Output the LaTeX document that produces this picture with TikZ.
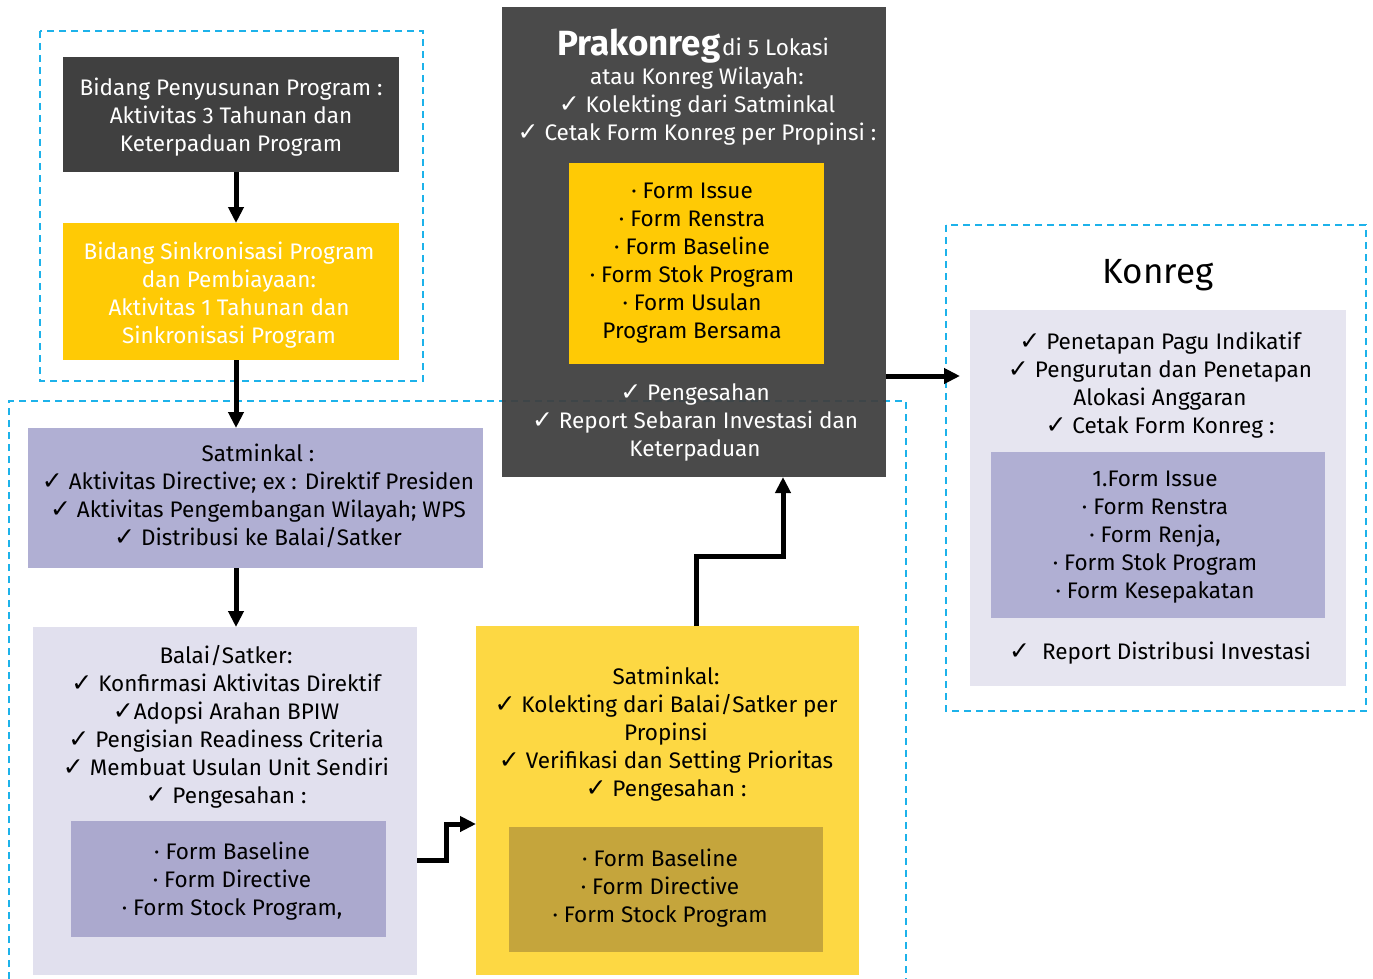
\documentclass[tikz,border=0pt]{standalone}
\usepackage{fontspec}
\setmainfont{Fira Sans}
\newfontfamily\djv{DejaVu Sans}
\usetikzlibrary{arrows.meta}
\newcommand\ck{{\djv\fontsize{25}{28}\selectfont ✓}}
\newcommand\fs{\fontsize{22.5}{28}\selectfont}
\definecolor{darkc}{HTML}{404040}
\definecolor{yelc}{HTML}{FFCA05}
\definecolor{lavc}{HTML}{B0AFD3}
\definecolor{lightlav}{HTML}{E1E0EE}
\definecolor{lightlavb}{HTML}{E6E5F0}
\definecolor{lavin}{HTML}{ABA9CE}
\definecolor{yelb}{HTML}{FDD843}
\definecolor{olivec}{HTML}{C5A53C}
\definecolor{cyanc}{HTML}{1DB2EA}
\tikzset{
  box/.style={inner sep=0, outer sep=0, draw=none},
  txt/.style={inner sep=0, outer sep=0, align=center, font=\fs, yshift=-4pt,
    execute at begin node=\strut, execute at end node=\strut},
  conn/.style={line width=5pt, -{Triangle[length=16pt,width=15pt]}},
  cyanbox/.style={draw=cyanc, line width=1.8pt, dash pattern=on 7pt off 5pt},
}
\begin{document}
\begin{tikzpicture}[x=1pt,y=-1pt]
\useasboundingbox (0,0) rectangle (1373,979);
% dashed groups
\draw[cyanbox] (40,31) rectangle (423,381);
\draw[cyanbox] (9,979) -- (9,401) -- (906,401) -- (906,979);
\draw[cyanbox] (946,225) rectangle (1366,711);

% left column
\node[box, fill=darkc, minimum width=336, minimum height=115] (d1) at (231,114.5) {};
\node[txt, text=white] (d1t) at (231,115) {Bidang Penyusunan Program :\\Aktivitas 3 Tahunan dan\\Keterpaduan Program};
\node[box, fill=yelc, minimum width=336, minimum height=137] (y1) at (231,291.5) {};
\node[txt, text=white] (y1t) at (229,292.5) {Bidang Sinkronisasi Program\\dan Pembiayaan:\\Aktivitas 1 Tahunan dan\\Sinkronisasi Program};

\node[box, fill=lavc, minimum width=455, minimum height=140] (s1) at (255.5,498) {};
\node[txt] (s1t) at (258,494.5) {Satminkal :\\\ck\ Aktivitas Directive; ex : Direktif Presiden\\\ck\ Aktivitas Pengembangan Wilayah; WPS\\\ck\ Distribusi ke Balai/Satker};

\node[box, fill=lightlav, minimum width=384, minimum height=348] (b1) at (225,801) {};
\node[txt] (b1t) at (226,724.5) {Balai/Satker:\\\ck\ Konfirmasi Aktivitas Direktif\\\ck Adopsi Arahan BPIW\\\ck\ Pengisian Readiness Criteria\\\ck\ Membuat Usulan Unit Sendiri\\\ck\ Pengesahan :};
\node[box, fill=lavin, minimum width=315, minimum height=116] (b1in) at (228.5,879) {};
\node[txt] (b1int) at (232,879) {· Form Baseline\\· Form Directive\\· Form Stock Program,};

% middle bottom
\node[box, fill=yelb, minimum width=383, minimum height=349] (y2) at (667.5,800.5) {};
\node[txt] (y2t) at (666,732) {Satminkal:\\\ck\ Kolekting dari Balai/Satker per\\Propinsi\\\ck\ Verifikasi dan Setting Prioritas\\\ck\ Pengesahan :};
\node[box, fill=olivec, minimum width=314, minimum height=125] (y2in) at (666,889.5) {};
\node[txt] (y2int) at (660,886) {· Form Baseline\\· Form Directive\\· Form Stock Program};

% Prakonreg
\node[box, fill=darkc, fill opacity=0.95, minimum width=384, minimum height=470] (p) at (694,242) {};
\node[inner sep=0, text=white, anchor=base] (pt) at (693,56) {{\fontsize{35}{35}\selectfont\bfseries Prakonreg}\,{\fs di 5 Lokasi}};
\node[txt, text=white] (ptt) at (697,103.5) {atau Konreg Wilayah:\\\ck\ Kolekting dari Satminkal\\\ck\ Cetak Form Konreg per Propinsi :};
\node[box, fill=yelc, minimum width=255, minimum height=201] (pin) at (696.5,263.5) {};
\node[txt] (pint) at (692,260.5) {· Form Issue\\· Form Renstra\\· Form Baseline\\· Form Stok Program\\· Form Usulan\\Program Bersama};
\node[txt, text=white] (pb) at (695,420) {\ck\ Pengesahan\\\ck\ Report Sebaran Investasi dan\\Keterpaduan};

% Konreg
\node[inner sep=0, anchor=base] (kt) at (1158,283) {\fontsize{35}{35}\selectfont Konreg};
\node[box, fill=lightlavb, minimum width=376, minimum height=376] (k) at (1158,498) {};
\node[txt] (ktt) at (1160,383) {\ck\ Penetapan Pagu Indikatif\\\ck\ Pengurutan dan Penetapan\\Alokasi Anggaran\\\ck\ Cetak Form Konreg :};
\node[box, fill=lavc, minimum width=334, minimum height=166] (kin) at (1158,535) {};
\node[txt] (kint) at (1155,535) {1.Form Issue\\· Form Renstra\\· Form Renja,\\· Form Stok Program\\· Form Kesepakatan};
\node[txt] (kr) at (1160,650) {\ck\ \ Report Distribusi Investasi};

% connectors
\coordinate (ax) at (236,0);
\draw[conn] (d1.south -| ax) -- (y1.north -| ax);
\draw[conn] (y1.south -| ax) -- (s1.north -| ax);
\draw[conn] (s1.south -| ax) -- (b1.north -| ax);
\draw[conn] ([yshift=-59]b1.east) -- ++(29,0) |- ([yshift=-23.5]y2.west);
\coordinate (m1) at (740,556);
\draw[conn] ([xshift=28.5]y2.north) |- (m1) -| ([xshift=89]p.south);
\draw[conn] ([yshift=-134]p.east) -- ([yshift=122,xshift=-10]k.west);
\end{tikzpicture}
\end{document}
